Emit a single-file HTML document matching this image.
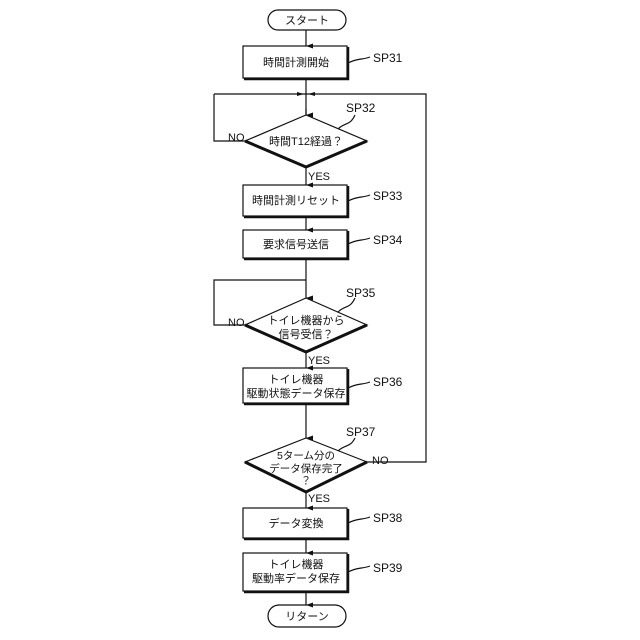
<!DOCTYPE html><html><head><style>body{margin:0;background:#fff}svg{display:block}text{font-family:"Liberation Sans","Noto Sans CJK JP",sans-serif;fill:#111}</style></head><body>
<svg width="640" height="640" viewBox="0 0 640 640" xmlns="http://www.w3.org/2000/svg">
<defs><marker id="a" markerWidth="8" markerHeight="8" refX="4" refY="7" orient="auto" markerUnits="userSpaceOnUse"><path d="M1.5,0 L4,7 L6.5,0 Z" fill="#111"/></marker></defs>
<g stroke="#111" stroke-width="1.2" fill="none">
<rect x="268" y="10" width="78" height="20" rx="10"/>
<rect x="268" y="605" width="78" height="22" rx="11"/>
<line x1="306" y1="30" x2="306" y2="46" marker-end="url(#a)"/>
<rect x="243" y="46" width="104" height="32"/><path d="M244,79H348V47" stroke-width="2.5"/>
<line x1="306" y1="78" x2="306" y2="115" marker-end="url(#a)"/>
<polyline points="214,94 214,141 245,141"/>
<line x1="214" y1="94" x2="306" y2="94"/>
<polyline points="367,462 426,462 426,94 306,94"/>
<path d="M306,109 L306,115"/>
</g>
<g fill="#111" stroke="none">
<polygon points="297,92 304,94 297,96"/>
<polygon points="315,92 308,94 315,96"/>
</g>
<g stroke="#111" stroke-width="1.2" fill="none">
<polygon points="306,115 367,141 306,167 245,141"/><path d="M245,141L306,167L367,141" stroke-width="3"/>
<line x1="306" y1="167" x2="306" y2="185" marker-end="url(#a)"/>
<rect x="243" y="185" width="104" height="31"/><path d="M244,217H348V186" stroke-width="2.5"/>
<line x1="306" y1="216" x2="306" y2="230" marker-end="url(#a)"/>
<rect x="243" y="230" width="104" height="28"/><path d="M244,259H348V231" stroke-width="2.5"/>
<line x1="306" y1="258" x2="306" y2="298" marker-end="url(#a)"/>
<polyline points="245,325 214,325 214,280 306,280"/>
<polygon points="306,298 367,325 306,352 245,325"/><path d="M245,325L306,352L367,325" stroke-width="3"/>
<line x1="306" y1="352" x2="306" y2="368" marker-end="url(#a)"/>
<rect x="243" y="368" width="104" height="35"/><path d="M244,404H348V369" stroke-width="2.5"/>
<line x1="306" y1="403" x2="306" y2="438" marker-end="url(#a)"/>
<polygon points="306,438 367,462 306,492 245,462"/><path d="M245,462L306,492L367,462" stroke-width="3"/>
<line x1="306" y1="492" x2="306" y2="508" marker-end="url(#a)"/>
<rect x="243" y="508" width="104" height="30"/><path d="M244,539H348V509" stroke-width="2.5"/>
<line x1="306" y1="538" x2="306" y2="553" marker-end="url(#a)"/>
<rect x="243" y="553" width="104" height="38"/><path d="M244,592H348V554" stroke-width="2.5"/>
<line x1="306" y1="591" x2="306" y2="605" marker-end="url(#a)"/>
<path d="M348,63C358,58 362,60 370,57"/>
<path d="M348,201C358,196 362,198 370,195"/>
<path d="M348,244C358,239 362,241 370,238"/>
<path d="M348,388C358,383 362,385 370,382"/>
<path d="M348,523C358,518 362,520 370,517"/>
<path d="M348,572C358,567 362,569 370,566"/>
<path d="M338,129C345,122 350,126 355,115"/>
<path d="M338,312C345,305 350,309 355,298"/>
<path d="M338,451C345,444 350,448 355,438"/>
</g>
<g font-size="11" text-anchor="middle">
<text x="307" y="24">スタート</text>
<text x="307" y="620">リターン</text>
<text x="296" y="66">時間計測開始</text>
<text x="306" y="145">時間T12経過？</text>
<text x="296" y="204">時間計測リセット</text>
<text x="296" y="248">要求信号送信</text>
<text x="306" y="324">トイレ機器から</text><text x="306" y="338">信号受信？</text>
<text x="296" y="383">トイレ機器</text><text x="296" y="397">駆動状態データ保存</text>
<text x="306" y="459" font-size="10.5">5ターム分の</text><text x="306" y="472" font-size="10.5">データ保存完了</text><text x="306" y="484" font-size="10.5">？</text>
<text x="296" y="527">データ変換</text>
<text x="296" y="568">トイレ機器</text><text x="296" y="582">駆動率データ保存</text>
</g>
<g font-size="12">
<text x="373" y="62">SP31</text><text x="346" y="112">SP32</text><text x="373" y="200">SP33</text><text x="373" y="244">SP34</text>
<text x="346" y="297">SP35</text><text x="373" y="386">SP36</text><text x="346" y="436">SP37</text><text x="373" y="522">SP38</text><text x="373" y="572">SP39</text>
</g>
<g font-size="11">
<text x="228" y="141">NO</text><text x="228" y="326">NO</text><text x="372" y="464">NO</text>
<text x="308" y="180">YES</text><text x="308" y="364">YES</text><text x="308" y="502">YES</text>
</g>
</svg></body></html>
